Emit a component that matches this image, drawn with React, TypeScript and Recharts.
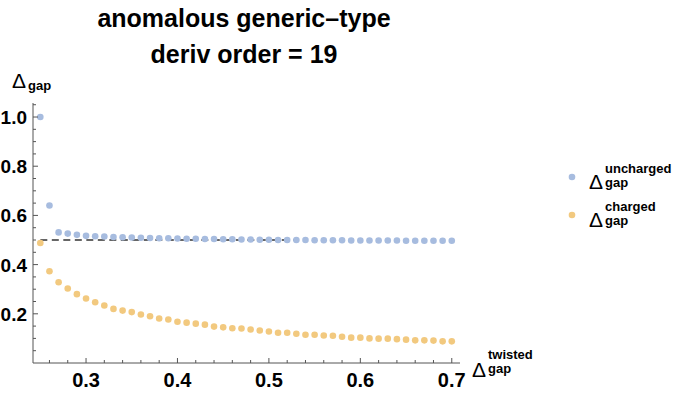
import React from "react";
import { ScatterChart, Scatter, XAxis, YAxis, ReferenceLine } from "recharts";

const TWISTED = [
  0.25, 0.26, 0.27, 0.28, 0.29, 0.3, 0.31, 0.32, 0.33, 0.34, 0.35, 0.36, 0.37, 0.38, 0.39, 0.4,
  0.41, 0.42, 0.43, 0.44, 0.45, 0.46, 0.47, 0.48, 0.49, 0.5, 0.51, 0.52, 0.53, 0.54, 0.55, 0.56,
  0.57, 0.58, 0.59, 0.6, 0.61, 0.62, 0.63, 0.64, 0.65, 0.66, 0.67, 0.68, 0.69, 0.7,
];

const UNCHARGED = [
  1.0, 0.64, 0.531, 0.526, 0.521, 0.517, 0.515, 0.514, 0.512, 0.511, 0.51, 0.509, 0.508, 0.507,
  0.507, 0.506, 0.505, 0.505, 0.504, 0.504, 0.503, 0.503, 0.502, 0.502, 0.501, 0.501, 0.5, 0.5,
  0.5, 0.5, 0.499, 0.499, 0.499, 0.499, 0.498, 0.498, 0.498, 0.498, 0.498, 0.498, 0.497, 0.497,
  0.497, 0.497, 0.497, 0.497,
];

const CHARGED = [
  0.488, 0.373, 0.328, 0.303, 0.28, 0.262, 0.247, 0.234, 0.22, 0.213, 0.207, 0.197, 0.19, 0.181,
  0.177, 0.168, 0.164, 0.16, 0.156, 0.148, 0.145, 0.141, 0.14, 0.136, 0.132, 0.128, 0.123, 0.123,
  0.119, 0.115, 0.115, 0.112, 0.111, 0.107, 0.103, 0.103, 0.1, 0.099, 0.099, 0.097, 0.095, 0.092,
  0.092, 0.091, 0.088, 0.088,
];

// dashed reference at 1/2
const REF_Y = 0.5;
const REF_FROM = 0.25;
const REF_TO = 0.533;

const X_TICKS = [
  0.26, 0.28, 0.3, 0.32, 0.34, 0.36, 0.38, 0.4, 0.42, 0.44, 0.46, 0.48, 0.5, 0.52, 0.54, 0.56,
  0.58, 0.6, 0.62, 0.64, 0.66, 0.68, 0.7,
];
const Y_TICKS = [
  0.05, 0.1, 0.15, 0.2, 0.25, 0.3, 0.35, 0.4, 0.45, 0.5, 0.55, 0.6, 0.65, 0.7, 0.75, 0.8, 0.85,
  0.9, 0.95, 1.0, 1.05,
];

const BLUE = "#a7bcdf";
const ORANGE = "#f2c97f";
const AXIS = "#555";
const FONT = "'Liberation Sans', Arial, sans-serif";

const unchargedData = TWISTED.map((x, i) => ({ x, y: UNCHARGED[i] }));
const chargedData = TWISTED.map((x, i) => ({ x, y: CHARGED[i] }));

const isMajor = (v: number, per: number) => Math.abs(v * per - Math.round(v * per)) < 1e-6;

const XTick = (props: any) => {
  const { x, y, payload } = props;
  const major = isMajor(payload.value, 10);
  return (
    <g>
      <line x1={x} x2={x} y1={y} y2={y - (major ? 5 : 3)} stroke={AXIS} />
      {major && (
        <text x={x} y={y + 24} textAnchor="middle" fontFamily={FONT} fontWeight="bold" fontSize={20} fill="#000">
          {payload.value.toFixed(1)}
        </text>
      )}
    </g>
  );
};

const YTick = (props: any) => {
  const { x, y, payload } = props;
  const major = isMajor(payload.value, 5);
  return (
    <g>
      <line x1={x} x2={x + (major ? 5 : 3)} y1={y} y2={y} stroke={AXIS} />
      {major && (
        <text x={x - 6} y={y + 7} textAnchor="end" fontFamily={FONT} fontWeight="bold" fontSize={19} fill="#000">
          {payload.value.toFixed(1)}
        </text>
      )}
    </g>
  );
};

const dot = (color: string) => (props: any) =>
  <circle cx={props.cx} cy={props.cy} r={3.3} fill={color} />;

// Δ with a superscript / subscript stack, placed by baselines
function Delta({ x, base, sup, supBase, subBase }: { x: number; base: number; sup?: string; supBase: number; subBase: number }) {
  return (
    <g fontFamily={FONT} fill="#000">
      <text x={x} y={base} fontSize={21}>Δ</text>
      {sup && (
        <text x={x + 16} y={supBase} fontSize={13} fontWeight="bold">{sup}</text>
      )}
      <text x={x + 16} y={subBase} fontSize={13} fontWeight="bold">gap</text>
    </g>
  );
}

export default function App() {
  return (
    <div style={{ position: "absolute", left: 0, top: 0, width: 686, height: 394, background: "#fff" }}>
      <ScatterChart width={686} height={394} margin={{ top: 103, right: 226, bottom: 30, left: 32 }}>
        <XAxis
          type="number"
          dataKey="x"
          domain={[0.242, 0.709]}
          ticks={X_TICKS}
          interval={0}
          height={1}
          tickSize={0}
          tickMargin={0}
          tick={<XTick />}
          axisLine={{ stroke: AXIS }}
          allowDataOverflow
        />
        <YAxis
          type="number"
          dataKey="y"
          domain={[0, 1.057]}
          ticks={Y_TICKS}
          interval={0}
          width={1}
          tickSize={0}
          tickMargin={0}
          tick={<YTick />}
          axisLine={{ stroke: AXIS }}
          allowDataOverflow
        />
        <Scatter data={unchargedData} shape={dot(BLUE)} isAnimationActive={false} />
        <Scatter data={chargedData} shape={dot(ORANGE)} isAnimationActive={false} />
        <ReferenceLine
          segment={[
            { x: REF_FROM, y: REF_Y },
            { x: REF_TO, y: REF_Y },
          ]}
          stroke="#555"
          strokeOpacity={0.9}
          strokeWidth={2}
          strokeDasharray="7 4.5"
          ifOverflow="visible"
        />
      </ScatterChart>
      <svg width={686} height={394} style={{ position: "absolute", left: 0, top: 0, pointerEvents: "none" }}>
        <g fontFamily={FONT} fontWeight="bold" fontSize={25} textAnchor="middle" fill="#000">
          <text x={244} y={27}>anomalous generic–type</text>
          <text x={244} y={63}>deriv order = 19</text>
        </g>
        <Delta x={12} base={88} supBase={0} subBase={90} />
        <Delta x={472} base={377} sup="twisted" supBase={359} subBase={373} />
        <circle cx={572} cy={177} r={3.3} fill={BLUE} />
        <Delta x={589} base={189} sup="uncharged" supBase={173} subBase={187} />
        <circle cx={572} cy={215} r={3.3} fill={ORANGE} />
        <Delta x={589} base={227} sup="charged" supBase={211} subBase={225} />
      </svg>
    </div>
  );
}
